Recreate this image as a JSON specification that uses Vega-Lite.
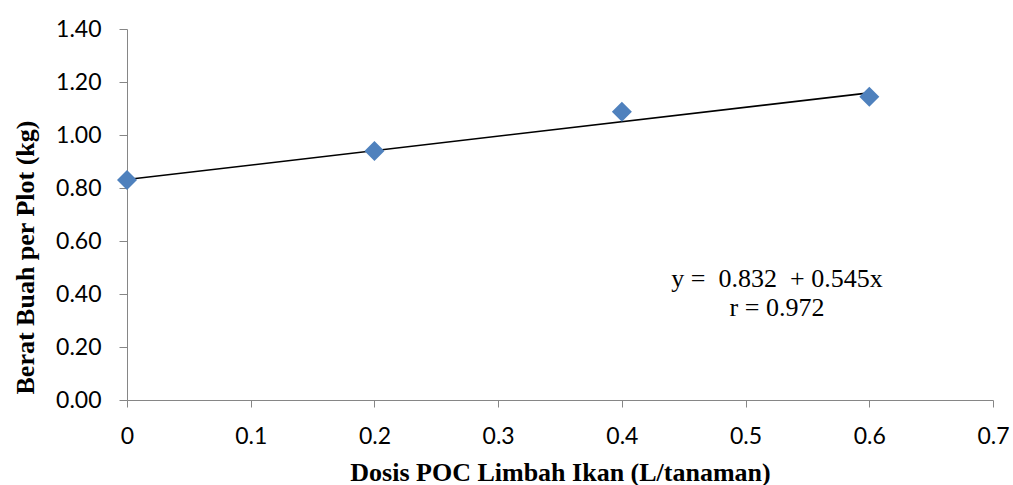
{
  "$schema": "https://vega.github.io/schema/vega-lite/v6.json",
  "width": 866,
  "height": 371,
  "autosize": {"type": "none"},
  "padding": {"left": 127, "top": 29, "right": 20, "bottom": 85},
  "background": "white",
  "config": {
    "view": {"stroke": null},
    "axis": {
      "grid": false,
      "domainColor": "#868686",
      "tickColor": "#868686",
      "labelFont": "Lato",
      "labelFontSize": 23,
      "labelColor": "#000000",
      "titleFont": "Liberation Serif",
      "titleFontSize": 26,
      "titleFontWeight": "bold",
      "titleColor": "#000000"
    }
  },
  "datasets": {
    "obs": [
      {"dosis": 0, "berat": 0.83},
      {"dosis": 0.2, "berat": 0.94},
      {"dosis": 0.4, "berat": 1.088},
      {"dosis": 0.6, "berat": 1.144}
    ],
    "fit": [
      {"dosis": 0, "berat": 0.832},
      {"dosis": 0.6, "berat": 1.159}
    ],
    "note": [
      {"dosis": 0.5254, "berat": 0.4264, "label": "y = \u00a00.832 \u00a0+ 0.545x"},
      {"dosis": 0.5254, "berat": 0.317, "label": "r = 0.972"}
    ]
  },
  "layer": [
    {
      "data": {"name": "fit"},
      "mark": {"type": "line", "color": "#000000", "strokeWidth": 1.6},
      "encoding": {
        "x": {
          "field": "dosis", "type": "quantitative",
          "scale": {"domain": [0, 0.7], "nice": false, "zero": false},
          "axis": {
            "title": "Dosis POC Limbah Ikan (L/tanaman)",
            "values": [0, 0.1, 0.2, 0.3, 0.4, 0.5, 0.6, 0.7],
            "format": "~g",
            "tickSize": 7,
            "labelPadding": 36,
            "labelBaseline": "alphabetic",
            "titleY": 80,
            "titleBaseline": "alphabetic",
            "labelFlush": false
          }
        },
        "y": {
          "field": "berat", "type": "quantitative",
          "scale": {"domain": [0, 1.4], "nice": false},
          "axis": {
            "title": "Berat Buah per Plot (kg)",
            "values": [0, 0.2, 0.4, 0.6, 0.8, 1.0, 1.2, 1.4],
            "format": ".2f",
            "tickSize": 8,
            "labelPadding": 18,
            "titleX": -102,
            "titleY": 228,
            "titleAngle": -90,
            "titleAlign": "center",
            "titleBaseline": "middle",
            "labelFlush": false
          }
        }
      }
    },
    {
      "data": {"name": "obs"},
      "mark": {"type": "point", "shape": "diamond", "filled": true, "color": "#4F81BD", "opacity": 1, "size": 400},
      "encoding": {
        "x": {"field": "dosis", "type": "quantitative"},
        "y": {"field": "berat", "type": "quantitative"}
      }
    },
    {
      "data": {"name": "note"},
      "mark": {"type": "text", "font": "Liberation Serif", "fontSize": 26, "color": "#000000", "align": "center", "baseline": "alphabetic"},
      "encoding": {
        "x": {"field": "dosis", "type": "quantitative"},
        "y": {"field": "berat", "type": "quantitative"},
        "text": {"field": "label"}
      }
    }
  ]
}
